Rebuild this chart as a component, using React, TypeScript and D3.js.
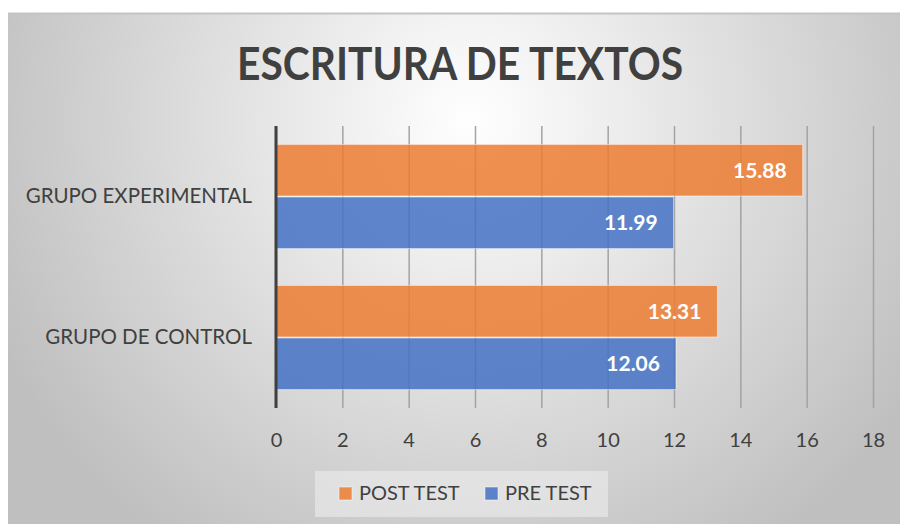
import React, { useRef, useEffect } from 'react';
import * as d3 from 'd3';

const title = 'ESCRITURA DE TEXTOS';
const categories = ['GRUPO EXPERIMENTAL', 'GRUPO DE CONTROL'];
const seriesNames = ['POST TEST', 'PRE TEST'];
const postTest = [15.88, 13.31];
const preTest = [11.99, 12.06];
const xTicks = [0, 2, 4, 6, 8, 10, 12, 14, 16, 18];
const seriesColors = ['#ED7D31', '#4472C4'];

const W = 900;
const H = 524;
const FONT = 'Lato, "Open Sans", sans-serif';

const App: React.FC = () => {
  const svgRef = useRef<SVGSVGElement>(null);

  useEffect(() => {
    if (!svgRef.current) return;
    const svg = d3.select(svgRef.current);
    svg.selectAll('*').remove();

    const margin = { top: 126, right: 27, bottom: 116, left: 276 };
    const innerW = W - margin.left - margin.right;
    const innerH = H - margin.top - margin.bottom;

    // background gradient
    const defs = svg.append('defs');
    const grad = defs.append('radialGradient')
      .attr('id', 'bg')
      .attr('gradientUnits', 'userSpaceOnUse')
      .attr('cx', 470).attr('cy', 120).attr('r', 520);
    grad.append('stop').attr('offset', '0%').attr('stop-color', '#ffffff');
    grad.append('stop').attr('offset', '100%').attr('stop-color', '#bfbfbf');

    svg.append('rect').attr('width', W).attr('height', H).attr('fill', '#ffffff');
    svg.append('rect')
      .attr('x', 8).attr('y', 13)
      .attr('width', W - 8).attr('height', H - 13)
      .attr('fill', 'url(#bg)');
    svg.append('line')
      .attr('x1', 8).attr('x2', W).attr('y1', 13.5).attr('y2', 13.5)
      .attr('stroke', '#c4c4c4').attr('stroke-width', 2);

    // title
    svg.append('text')
      .attr('x', 460).attr('y', 80)
      .attr('text-anchor', 'middle')
      .attr('font-family', FONT)
      .attr('font-weight', 'bold')
      .attr('font-size', 46)
      .attr('textLength', 446)
      .attr('lengthAdjust', 'spacingAndGlyphs')
      .attr('fill', '#404040')
      .text(title);

    const x = d3.scaleLinear().domain([0, 18]).range([0, innerW]);
    const y = d3.scaleBand<string>()
      .domain(categories)
      .range([0, innerH])
      .paddingInner(0.254)
      .paddingOuter(0.127);
    const ySub = d3.scaleBand<string>()
      .domain(seriesNames)
      .range([0, y.bandwidth()]);

    const g = svg.append('g')
      .attr('transform', `translate(${margin.left},${margin.top})`);

    // x axis with gridlines
    const xAxis = g.append('g')
      .attr('transform', `translate(0,${innerH})`)
      .call(d3.axisBottom(x).tickValues(xTicks).tickSize(-innerH).tickPadding(25));
    xAxis.select('.domain').remove();
    xAxis.selectAll('line').attr('stroke', '#a3a3a3').attr('stroke-width', 1.5);
    xAxis.selectAll('text')
      .attr('font-family', FONT)
      .attr('font-size', 20)
      .attr('fill', '#404040');

    const rows = categories.map((c, i) => ({ cat: c, values: [postTest[i], preTest[i]] }));

    rows.forEach(row => {
      row.values.forEach((v, si) => {
        const by = (y(row.cat) as number) + (ySub(seriesNames[si]) as number);
        const bh = ySub.bandwidth();
        g.append('rect')
          .attr('x', 0)
          .attr('y', by + 0.5)
          .attr('width', x(v))
          .attr('height', bh - 1)
          .attr('fill', seriesColors[si])
          .attr('fill-opacity', 0.85)
          .attr('stroke', '#ffffff')
          .attr('stroke-opacity', 0.5)
          .attr('stroke-width', 1);
        g.append('text')
          .attr('x', x(v) - 16)
          .attr('y', by + bh / 2)
          .attr('dy', '0.36em')
          .attr('text-anchor', 'end')
          .attr('font-family', FONT)
          .attr('font-weight', 'bold')
          .attr('font-size', 21)
          .attr('fill', '#ffffff')
          .text(v.toFixed(2));
      });
    });

    // category axis
    const yAxis = g.append('g')
      .call(d3.axisLeft(y).tickSize(0).tickPadding(24));
    yAxis.select('.domain').remove();
    yAxis.selectAll('text')
      .attr('font-family', FONT)
      .attr('font-size', 20.5)
      .attr('fill', '#404040');

    g.append('line')
      .attr('x1', 0).attr('x2', 0)
      .attr('y1', 0).attr('y2', innerH)
      .attr('stroke', '#404040')
      .attr('stroke-width', 3);

    // legend
    const legend = svg.append('g');
    legend.append('rect')
      .attr('x', 315).attr('y', 471)
      .attr('width', 293).attr('height', 46)
      .attr('fill', '#ececec')
      .attr('fill-opacity', 0.6);
    const legendX = [339, 485];
    seriesNames.forEach((s, i) => {
      legend.append('rect')
        .attr('x', legendX[i]).attr('y', 487)
        .attr('width', 13).attr('height', 13)
        .attr('fill', seriesColors[i])
        .attr('fill-opacity', 0.85)
        .attr('stroke', '#ffffff')
        .attr('stroke-opacity', 0.5);
      legend.append('text')
        .attr('x', legendX[i] + 20)
        .attr('y', 500)
        .attr('font-family', FONT)
        .attr('font-size', 20)
        .attr('fill', '#404040')
        .text(s);
    });
  }, []);

  return (
    <svg
      ref={svgRef}
      width={W}
      height={H}
      style={{ position: 'absolute', left: 0, top: 0 }}
    />
  );
};

export default App;
